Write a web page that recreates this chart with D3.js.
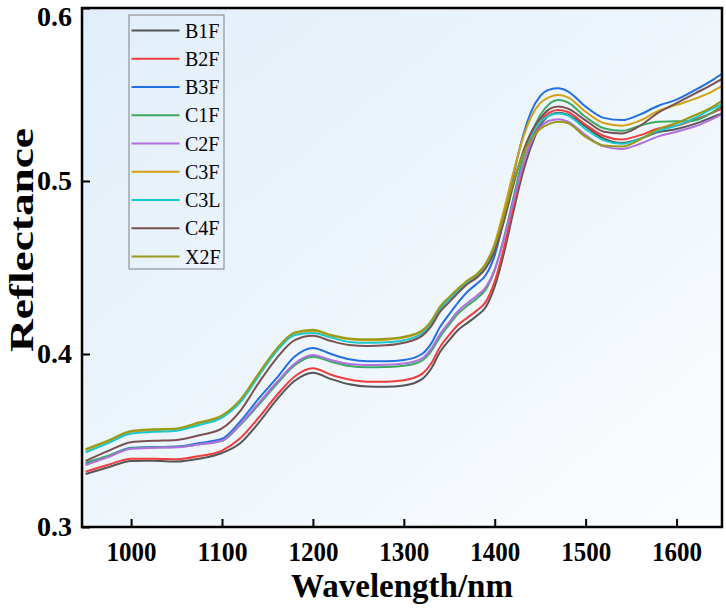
<!DOCTYPE html>
<html>
<head>
<meta charset="utf-8">
<script src="https://cdn.jsdelivr.net/npm/d3@7"></script>
<style>
  body { margin: 0; background: #fff; }
  svg text { font-family: "Liberation Serif", "Times New Roman", serif; }
</style>
</head>
<body>
<div id="chart"></div>
<script>
// wavelengths (nm)
const wavelengths = [950, 975, 1000, 1025, 1050, 1075, 1100, 1120, 1140, 1160, 1180, 1200, 1220, 1240, 1260, 1280, 1300, 1320, 1330, 1340, 1350, 1360, 1370, 1380, 1390, 1400, 1410, 1420, 1430, 1440, 1450, 1460, 1470, 1480, 1500, 1520, 1540, 1560, 1580, 1600, 1620, 1640, 1650];

const B1F = [.3306, .3345, .3382, .3383, .3378, .3395, .3428, .3484, .3600, .3735, .3845, .3892, .3855, .3825, .3812, .3811, .3818, .3855, .3915, .4013, .4080, .4140, .4180, .4220, .4270, .4390, .4580, .4810, .5030, .5200, .5320, .5380, .5395, .5385, .5315, .5245, .5220, .5245, .5283, .5300, .5330, .5370, .5390];
const B2F = [.3320, .3360, .3395, .3395, .3392, .3410, .3442, .3513, .3630, .3760, .3870, .3917, .3880, .3852, .3840, .3840, .3848, .3885, .3945, .4042, .4110, .4170, .4210, .4250, .4300, .4420, .4610, .4840, .5060, .5230, .5340, .5395, .5410, .5400, .5325, .5260, .5240, .5265, .5303, .5320, .5355, .5395, .5420];
const B3F = [.3365, .3410, .3458, .3462, .3465, .3485, .3510, .3610, .3740, .3860, .3985, .4035, .4000, .3970, .3958, .3958, .3965, .4000, .4060, .4158, .4230, .4300, .4360, .4405, .4455, .4570, .4780, .5020, .5240, .5400, .5490, .5528, .5536, .5520, .5430, .5365, .5352, .5385, .5435, .5470, .5525, .5585, .5620];
const C1F = [.3372, .3412, .3455, .3460, .3462, .3478, .3498, .3590, .3705, .3825, .3935, .3984, .3955, .3930, .3923, .3925, .3932, .3962, .4015, .4100, .4170, .4235, .4280, .4320, .4372, .4485, .4670, .4890, .5110, .5270, .5380, .5445, .5468, .5455, .5370, .5305, .5290, .5320, .5343, .5345, .5350, .5400, .5435];
const C2F = [.3358, .3405, .3452, .3458, .3461, .3478, .3500, .3595, .3715, .3835, .3945, .3994, .3965, .3942, .3936, .3938, .3945, .3975, .4030, .4116, .4185, .4250, .4295, .4335, .4385, .4490, .4660, .4870, .5070, .5220, .5310, .5348, .5357, .5345, .5265, .5200, .5185, .5215, .5258, .5285, .5315, .5360, .5385];
const C3F = [.3445, .3495, .3550, .3560, .3566, .3600, .3640, .3730, .3880, .4025, .4120, .4135, .4105, .4085, .4080, .4083, .4095, .4130, .4185, .4270, .4325, .4375, .4420, .4458, .4522, .4640, .4830, .5040, .5230, .5370, .5450, .5485, .5497, .5485, .5400, .5335, .5320, .5350, .5405, .5440, .5475, .5520, .5550];
const C3L = [.3432, .3485, .3540, .3550, .3557, .3590, .3632, .3720, .3870, .4015, .4110, .4122, .4095, .4070, .4065, .4068, .4080, .4118, .4172, .4260, .4315, .4365, .4410, .4445, .4500, .4605, .4770, .4970, .5140, .5260, .5340, .5378, .5390, .5380, .5300, .5235, .5215, .5245, .5290, .5320, .5365, .5420, .5445];
const C4F = [.3382, .3440, .3490, .3498, .3503, .3530, .3570, .3670, .3830, .3975, .4080, .4105, .4075, .4052, .4046, .4050, .4065, .4105, .4160, .4245, .4300, .4355, .4405, .4440, .4495, .4595, .4765, .4970, .5150, .5280, .5360, .5415, .5430, .5420, .5350, .5285, .5275, .5320, .5395, .5450, .5505, .5560, .5590];
const X2F = [.3450, .3500, .3555, .3565, .3570, .3605, .3645, .3735, .3885, .4030, .4125, .4140, .4110, .4090, .4085, .4088, .4100, .4135, .4190, .4275, .4330, .4380, .4425, .4460, .4520, .4630, .4800, .4990, .5140, .5240, .5300, .5330, .5343, .5335, .5255, .5205, .5200, .5240, .5300, .5335, .5380, .5430, .5465];

const seriesNames = ["B1F", "B2F", "B3F", "C1F", "C2F", "C3F", "C3L", "C4F", "X2F"];
const seriesValues = [B1F, B2F, B3F, C1F, C2F, C3F, C3L, C4F, X2F];
const seriesColors = ["#555555", "#f03c3c", "#2070e0", "#3caa60", "#b070e0", "#d4a010", "#18c8cc", "#7a5050", "#9a9a18"];

const xTicks = [1000, 1100, 1200, 1300, 1400, 1500, 1600];
const yTicks = [0.3, 0.4, 0.5, 0.6];

const width = 726, height = 608;
const margin = { top: 8, right: 4, bottom: 81, left: 82 };
const w = width - margin.left - margin.right;
const h = height - margin.top - margin.bottom;

const svg = d3.select("#chart").append("svg")
  .attr("width", width)
  .attr("height", height);

const defs = svg.append("defs");
const grad = defs.append("linearGradient")
  .attr("id", "bg")
  .attr("x1", "0%").attr("y1", "0%")
  .attr("x2", "100%").attr("y2", "100%");
grad.append("stop").attr("offset", "0%").attr("stop-color", "#e1eef9");
grad.append("stop").attr("offset", "100%").attr("stop-color", "#fbfdff");

const g = svg.append("g")
  .attr("transform", "translate(" + margin.left + "," + margin.top + ")");

const x = d3.scaleLinear().domain([946, 1650]).range([0, w]);
const y = d3.scaleLinear().domain([0.3, 0.6]).range([h, 0]);

g.append("rect")
  .attr("width", w).attr("height", h)
  .attr("fill", "url(#bg)");

const line = d3.line()
  .x((d, i) => x(wavelengths[i]))
  .y(d => y(d))
  .curve(d3.curveMonotoneX);

g.selectAll("path.series")
  .data(seriesValues)
  .enter().append("path")
  .attr("class", "series")
  .attr("fill", "none")
  .attr("stroke", (d, i) => seriesColors[i])
  .attr("stroke-width", 2)
  .attr("d", line);

// axes
const xAxis = d3.axisBottom(x).tickValues(xTicks).tickSize(-8).tickPadding(14).tickFormat(d3.format("d"));
const yAxis = d3.axisLeft(y).tickValues(yTicks).tickSize(-8).tickPadding(10).tickFormat(d3.format(".1f"));

const gx = g.append("g")
  .attr("transform", "translate(0," + h + ")")
  .call(xAxis);
const gy = g.append("g").call(yAxis);

[gx, gy].forEach(a => {
  a.select(".domain").remove();
  a.selectAll(".tick line").attr("stroke", "#000").attr("stroke-width", 2);
  a.selectAll(".tick text")
    .attr("fill", "#000")
    .style("font-size", "28px")
    .style("font-weight", "bold")
    .style("font-family", "Liberation Serif, serif");
});
gx.selectAll(".tick text")
  .attr("textLength", 50)
  .attr("lengthAdjust", "spacingAndGlyphs");
// keep the top label inside the page
gy.selectAll(".tick text").filter(d => d === 0.6).attr("dy", "0.62em");

// frame
g.append("rect")
  .attr("width", w).attr("height", h)
  .attr("fill", "none")
  .attr("stroke", "#000")
  .attr("stroke-width", 2.5);

// axis titles
svg.append("text")
  .attr("x", margin.left + w / 2)
  .attr("y", 597)
  .attr("text-anchor", "middle")
  .style("font-size", "33px")
  .style("font-weight", "bold")
  .text("Wavelength/nm");

svg.append("text")
  .attr("transform", "translate(33,240) rotate(-90)")
  .attr("text-anchor", "middle")
  .attr("textLength", 224)
  .attr("lengthAdjust", "spacingAndGlyphs")
  .style("font-size", "34px")
  .style("font-weight", "bold")
  .text("Reflectance");

// legend
const legend = svg.append("g").attr("transform", "translate(129,15)");
legend.append("rect")
  .attr("width", 95).attr("height", 254)
  .attr("fill", "none")
  .attr("stroke", "#808080")
  .attr("stroke-width", 1);

const items = legend.selectAll("g.item")
  .data(seriesNames)
  .enter().append("g")
  .attr("class", "item")
  .attr("transform", (d, i) => "translate(0," + (15.5 + i * 28.25) + ")");

items.append("line")
  .attr("x1", 2.5).attr("x2", 50.5)
  .attr("stroke", (d, i) => seriesColors[i])
  .attr("stroke-width", 2);

items.append("text")
  .attr("x", 56)
  .attr("dy", "0.35em")
  .style("font-size", "20px")
  .text(d => d);
</script>
</body>
</html>
